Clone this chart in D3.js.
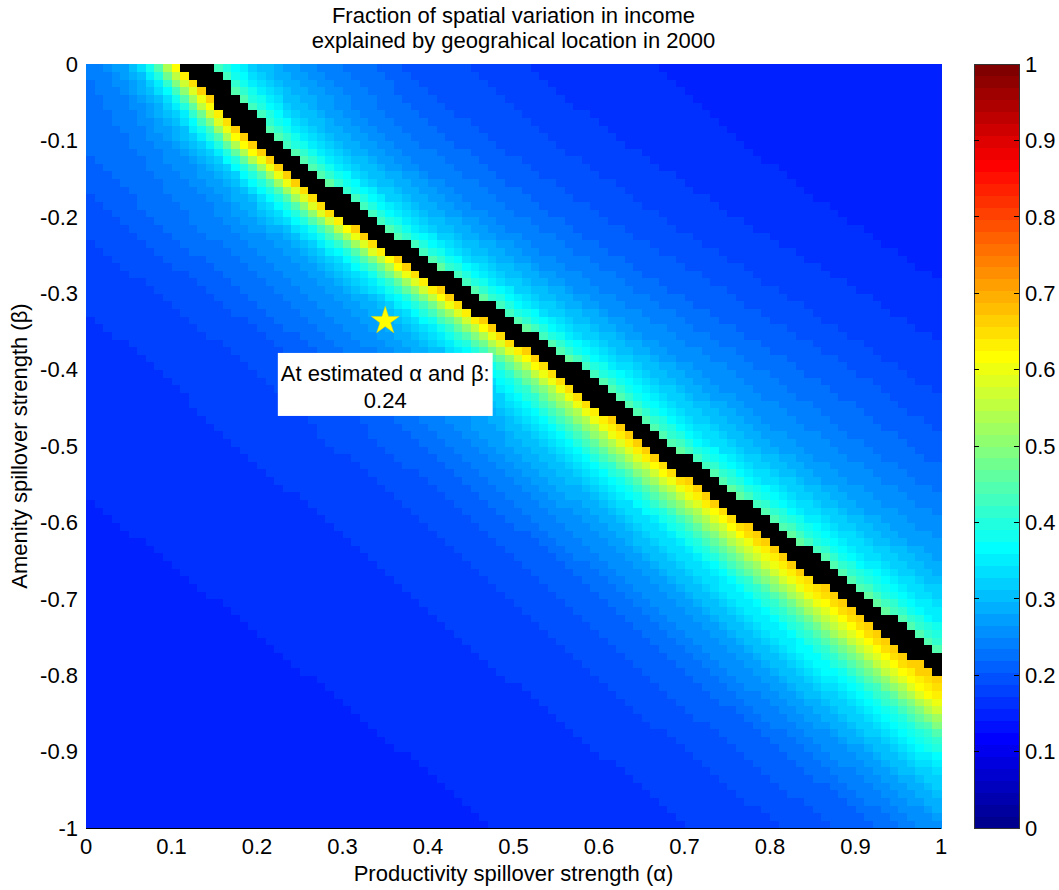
<!DOCTYPE html>
<html>
<head>
<meta charset="utf-8">
<script src="https://cdn.jsdelivr.net/npm/d3@7"></script>
<style>
body { margin: 0; background: #fff; }
text { font-family: "Liberation Sans", Arial, sans-serif; fill: #000; }
</style>
</head>
<body>
<svg id="chart"></svg>
<script>
// grid is 100 x 100 cells over alpha in [0,1], beta in [-1,0]
let nCells = 100;

// centre of the black band (alpha) read at several beta rows
let bandBeta = [0, -0.1, -0.2, -0.3, -0.4, -0.5, -0.6, -0.7, -0.8];
let bandAlpha = [0.128, 0.208, 0.315, 0.44, 0.565, 0.67, 0.788, 0.9, 1.01];
let bandHalfWidth = 0.018;

// fraction explained vs horizontal offset from band centre, read at top and bottom rows
let profileOffset = [-1.5, -1.0, -0.6, -0.4, -0.3, -0.22, -0.16, -0.12, -0.1, -0.08, -0.065, -0.05, -0.035, -0.02,
                     0.02, 0.035, 0.05, 0.07, 0.1, 0.15, 0.25, 0.4, 0.6, 0.9];
let profileTop = [0.15, 0.15, 0.16, 0.17, 0.19, 0.21, 0.22, 0.24, 0.26, 0.29, 0.34, 0.42, 0.56, 0.67,
                  0.44, 0.39, 0.35, 0.31, 0.28, 0.24, 0.2, 0.17, 0.15, 0.14];
let profileBottom = [0.15, 0.15, 0.16, 0.19, 0.22, 0.27, 0.33, 0.39, 0.44, 0.51, 0.57, 0.62, 0.65, 0.67,
                     0.46, 0.42, 0.39, 0.36, 0.33, 0.29, 0.25, 0.2, 0.16, 0.14];
let profileBetaRows = [0, -0.8];

let xTicks = [0, 0.1, 0.2, 0.3, 0.4, 0.5, 0.6, 0.7, 0.8, 0.9, 1];
let yTicks = [0, -0.1, -0.2, -0.3, -0.4, -0.5, -0.6, -0.7, -0.8, -0.9, -1];
let cTicks = [0, 0.1, 0.2, 0.3, 0.4, 0.5, 0.6, 0.7, 0.8, 0.9, 1];

let estimate = {alpha: 0.35, beta: -0.335, value: 0.24};
let titleLines = ["Fraction of spatial variation in income", "explained by geograhical location in 2000"];

let width = 1059;
let height = 890;
let margin = {"top": 64, "bottom": 62, "left": 86, "right": 118};
let cbar = {"left": 974, "right": 1019};

let svg = d3.select("#chart")
    .attr("width", width)
    .attr("height", height);

let x = d3.scaleLinear().domain([0, 1]).range([margin.left, width - margin.right]);
let y = d3.scaleLinear().domain([-1, 0]).range([height - margin.bottom, margin.top]);

// MATLAB jet(64)
function jet(m) {
    let n = Math.ceil(m / 4);
    let u = [];
    for (let i = 1; i <= n; i++) u.push(i / n);
    for (let i = 1; i < n; i++) u.push(1);
    for (let i = n; i >= 1; i--) u.push(i / n);
    let off = Math.ceil(n / 2) - (m % 4 === 1 ? 1 : 0);
    let g = u.map((_, i) => off + i + 1);
    let r = g.map(v => v + n).filter(v => v <= m);
    let b = g.map(v => v - n).filter(v => v >= 1);
    g = g.filter(v => v <= m);
    let J = d3.range(m).map(() => [0, 0, 0]);
    r.forEach((idx, i) => J[idx - 1][0] = u[i]);
    g.forEach((idx, i) => J[idx - 1][1] = u[i]);
    b.forEach((idx, i) => J[idx - 1][2] = u[u.length - b.length + i]);
    return J.map(c => d3.rgb(c[0] * 255, c[1] * 255, c[2] * 255).formatHex());
}
let jetColors = jet(64);
let color = d3.scaleQuantize().domain([0, 1]).range(jetColors);

let bandAt = d3.scaleLinear().domain(bandBeta).range(bandAlpha);
let topProfile = d3.scaleLinear().domain(profileOffset).range(profileTop).clamp(true);
let bottomProfile = d3.scaleLinear().domain(profileOffset).range(profileBottom).clamp(true);
let rowMix = d3.scaleLinear().domain(profileBetaRows).range([0, 1]).clamp(true);

let cells = [];
for (let j = 0; j < nCells; j++) {
    let b0 = -1 + j / nCells;
    let bc = b0 + 0.5 / nCells;
    for (let i = 0; i < nCells; i++) {
        let a0 = i / nCells;
        let ac = a0 + 0.5 / nCells;
        let d = ac - bandAt(bc);
        let t = rowMix(bc);
        let v = topProfile(d) * (1 - t) + bottomProfile(d) * t;
        cells.push({a0: a0, b0: b0, value: v, masked: Math.abs(d) < bandHalfWidth});
    }
}

svg.append("g")
    .attr("shape-rendering", "crispEdges")
    .selectAll("rect")
    .data(cells)
    .enter().append("rect")
    .attr("x", d => x(d.a0))
    .attr("y", d => y(d.b0 + 1 / nCells))
    .attr("width", d => x(d.a0 + 1 / nCells) - x(d.a0) + 0.5)
    .attr("height", d => y(d.b0) - y(d.b0 + 1 / nCells) + 0.5)
    .style("fill", d => d.masked ? "#000" : color(d.value));

// axes
let fs = 22;
let num = d => String(d);
svg.append("line")
    .attr("x1", x(0)).attr("x2", x(1))
    .attr("y1", y(-1) + 0.5).attr("y2", y(-1) + 0.5)
    .style("stroke", "#000");

svg.selectAll("text.xtick").data(xTicks)
    .enter().append("text")
    .attr("class", "xtick")
    .attr("x", d => x(d))
    .attr("y", y(-1) + 26)
    .style("text-anchor", "middle")
    .style("font-size", fs + "px")
    .text(num);

svg.selectAll("text.ytick").data(yTicks)
    .enter().append("text")
    .attr("class", "ytick")
    .attr("x", x(0) - 8)
    .attr("y", d => y(d))
    .attr("dy", "0.35em")
    .style("text-anchor", "end")
    .style("font-size", fs + "px")
    .text(num);

svg.append("text")
    .attr("x", (x(0) + x(1)) / 2)
    .attr("y", y(-1) + 53)
    .style("text-anchor", "middle")
    .style("font-size", fs + "px")
    .text("Productivity spillover strength (\u03b1)");

svg.append("text")
    .attr("transform", `translate(27, ${(y(0) + y(-1)) / 2}) rotate(-90)`)
    .style("text-anchor", "middle")
    .style("font-size", fs + "px")
    .text("Amenity spillover strength (\u03b2)");

svg.selectAll("text.title").data(titleLines)
    .enter().append("text")
    .attr("class", "title")
    .attr("x", (x(0) + x(1)) / 2)
    .attr("y", (d, i) => 23 + i * 25)
    .style("text-anchor", "middle")
    .style("font-size", fs + "px")
    .text(d => d);

// estimate marker and label
svg.append("path")
    .attr("d", d3.symbol().type(d3.symbolStar).size(240))
    .attr("transform", `translate(${x(estimate.alpha)}, ${y(estimate.beta) + 1})`)
    .style("fill", "#ffff00")
    .style("stroke", "#e8d000")
    .style("stroke-width", 0.5);

let label = svg.append("g");
let labelBox = label.append("rect").style("fill", "#fff");
let labelLines = ["At estimated \u03b1 and \u03b2:", estimate.value.toFixed(2)];
label.selectAll("text").data(labelLines)
    .enter().append("text")
    .attr("x", x(estimate.alpha))
    .attr("y", (d, i) => y(estimate.beta) + 61 + i * 27)
    .style("text-anchor", "middle")
    .style("font-size", fs + "px")
    .text(d => d);
let bb = label.node().getBBox();
labelBox.attr("x", bb.x - 3).attr("y", y(estimate.beta) + 33)
    .attr("width", bb.width + 6).attr("height", 63);

// colorbar
let cy = d3.scaleLinear().domain([0, 1]).range([y(-1), y(0)]);
let cbarG = svg.append("g").attr("shape-rendering", "crispEdges");
cbarG.selectAll("rect").data(jetColors)
    .enter().append("rect")
    .attr("x", cbar.left)
    .attr("width", cbar.right - cbar.left)
    .attr("y", (d, i) => cy((i + 1) / jetColors.length))
    .attr("height", (d, i) => cy(i / jetColors.length) - cy((i + 1) / jetColors.length) + 0.5)
    .style("fill", d => d);
cbarG.append("rect")
    .attr("x", cbar.left + 0.5).attr("y", cy(1) + 0.5)
    .attr("width", cbar.right - cbar.left).attr("height", cy(0) - cy(1))
    .style("fill", "none").style("stroke", "#333");
cbarG.selectAll("line.tl").data(cTicks.slice(1, -1))
    .enter().append("line")
    .attr("x1", cbar.left).attr("x2", cbar.left + 5)
    .attr("y1", d => cy(d)).attr("y2", d => cy(d))
    .style("stroke", "#000");
cbarG.selectAll("line.tr").data(cTicks.slice(1, -1))
    .enter().append("line")
    .attr("x1", cbar.right - 5).attr("x2", cbar.right)
    .attr("y1", d => cy(d)).attr("y2", d => cy(d))
    .style("stroke", "#000");
svg.selectAll("text.ctick").data(cTicks)
    .enter().append("text")
    .attr("class", "ctick")
    .attr("x", cbar.right + 6)
    .attr("y", d => cy(d))
    .attr("dy", "0.35em")
    .style("font-size", fs + "px")
    .text(num);
</script>
</body>
</html>
